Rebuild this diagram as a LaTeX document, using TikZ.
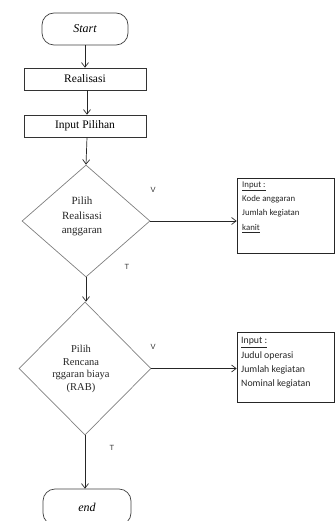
\documentclass[tikz,border=0pt]{standalone}
\usepackage{fontspec}
\setmainfont{Liberation Serif}
\newfontfamily\notefont{Carlito}
\newfontfamily\tagfont{Liberation Sans}
\usetikzlibrary{shapes.geometric,arrows.meta}
\begin{document}
\begin{tikzpicture}[x=1pt,y=-1pt,
  line/.style={draw=black!85,line width=0.7pt},
  flow/.style={line,-{Straight Barb[length=4.5pt,width=7pt]}},
  terminal/.style={draw=black!75,line width=0.7pt,rounded corners=12pt,
    inner sep=0pt,font=\fontsize{12}{14}\selectfont\itshape},
  process/.style={draw=black!80,line width=0.7pt,inner sep=0pt,
    minimum width=122pt,minimum height=22pt,font=\fontsize{11.5}{13}\selectfont},
  decision/.style={diamond,draw=black!50,line width=0.7pt,inner sep=0pt},
  dtext/.style={align=center,inner sep=0pt,text=black!85},
  notebox/.style={draw=black!85,line width=0.7pt,inner sep=0pt,
    minimum width=97pt},
  notetext/.style={align=left,inner sep=0pt,anchor=north west,text=black!85},
  tag/.style={font=\tagfont\fontsize{7.5}{8}\selectfont,inner sep=0pt,text=black!80}]
\useasboundingbox (0,0) rectangle (335,521);
\clip (0,0) rectangle (335,521);

% main column
\node[terminal,minimum width=86pt,minimum height=32pt] (start) at (85,29) {Start};
\node[process] (real) at (85,79) {Realisasi};
\node[process] (pilih) at (85,126) {Input Pilihan};

\node[decision,minimum width=128pt,minimum height=112pt] (d1) at (86,221) {};
\node[dtext,font=\fontsize{11}{14.5}\selectfont] (d1t) at (82,216.5)
  {Pilih\\Realisasi\\anggaran};

\node[decision,minimum width=132pt,minimum height=133pt] (d2) at (85,368.5) {};
\node[dtext,font=\fontsize{10.5}{12.7}\selectfont] (d2t) at (81,369)
  {Pilih\\Rencana\\rggaran biaya\\(RAB)};

\node[terminal,minimum width=88pt,minimum height=36pt] (stop) at (87,507) {end};

% input boxes
\node[notebox,minimum height=75pt] (in1) at (285.5,215.5) {};
\node[notetext,font=\notefont\fontsize{8.8}{14.3}\selectfont] (in1t) at (242,181.5)
  {\underline{Input :}\\Kode anggaran\\Jumlah kegiatan\\\underline{kanit}};

\node[notebox,minimum height=70pt] (in2) at (285.5,367) {};
\node[notetext,font=\notefont\fontsize{9.8}{14.3}\selectfont] (in2t) at (241,337.5)
  {\underline{Input :}\\Judul operasi\\Jumlah kegiatan\\Nominal kegiatan};

% branch labels
\node[tag] (v1) at (153,190) {V};
\node[tag] (t1) at (127,267) {T};
\node[tag] (v2) at (153,347) {V};
\node[tag] (t2) at (112,448) {T};

% connectors
\draw[flow] (start) -- (real);
\draw[flow] (real.south -| 87,0) -- (pilih.north -| 87,0);
\draw[flow] (pilih.south -| 87,0) -- (d1.north);
\draw[flow] (d1.south) -- (d2.north -| d1.south);
\draw[flow] (d2.south) -- (stop.north -| d2.south);
\draw[flow] (d1.east) -- (in1.west |- d1.east);
\draw[flow] (d2.east) -- (in2.west |- d2.east);
\end{tikzpicture}
\end{document}
